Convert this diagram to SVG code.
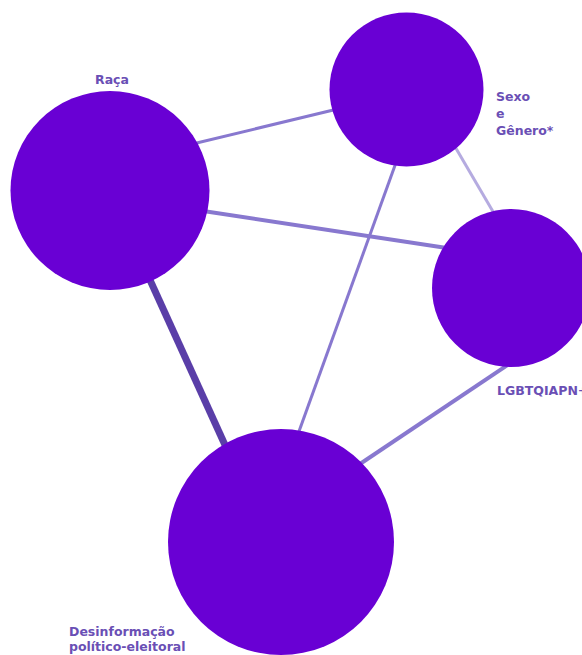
<svg xmlns="http://www.w3.org/2000/svg" width="582" height="655" viewBox="0 0 582 655">
<style>
.node{fill:#6900d4}
.lbl{font-family:"DejaVu Sans","Verdana",sans-serif;font-size:12.5px;font-weight:bold;fill:#6a4fb5}
.e{stroke-linecap:butt;fill:none}
.e1{stroke:#8878cf;stroke-width:3}
.e2{stroke:#8878cf;stroke-width:4}
.e3{stroke:#5a3ea8;stroke-width:7}
.e4{stroke:#b5abe0;stroke-width:3}
</style>
<rect width="582" height="655" fill="#ffffff"/>
<g id="connectors">
<line class="e e1" x1="180" y1="147" x2="350" y2="106"/>
<line class="e e2" x1="190" y1="209" x2="460" y2="250"/>
<line class="e e3" x1="140" y1="258" x2="230" y2="456"/>
<line class="e e1" x1="402" y1="146" x2="293" y2="448"/>
<line class="e e4" x1="447" y1="133" x2="502" y2="227"/>
<line class="e e2" x1="512" y1="362" x2="345" y2="474"/>
</g>
<g id="raca">
<circle class="node" cx="110" cy="190.5" r="99.5"/>
<text class="lbl" x="95" y="84">Raça</text>
</g>
<g id="sexo-genero">
<circle class="node" cx="406.5" cy="89.5" r="77"/>
<text class="lbl" x="496" y="101">Sexo</text>
<text class="lbl" x="496" y="118">e</text>
<text class="lbl" x="496" y="135">Gênero*</text>
</g>
<g id="lgbtqiapn">
<circle class="node" cx="511" cy="288" r="79"/>
<text class="lbl" x="497" y="395">LGBTQIAPN+</text>
</g>
<g id="desinformacao">
<circle class="node" cx="281" cy="542" r="113"/>
<text class="lbl" x="69" y="636">Desinformação</text>
<text class="lbl" x="69" y="651">político-eleitoral</text>
</g>
</svg>
